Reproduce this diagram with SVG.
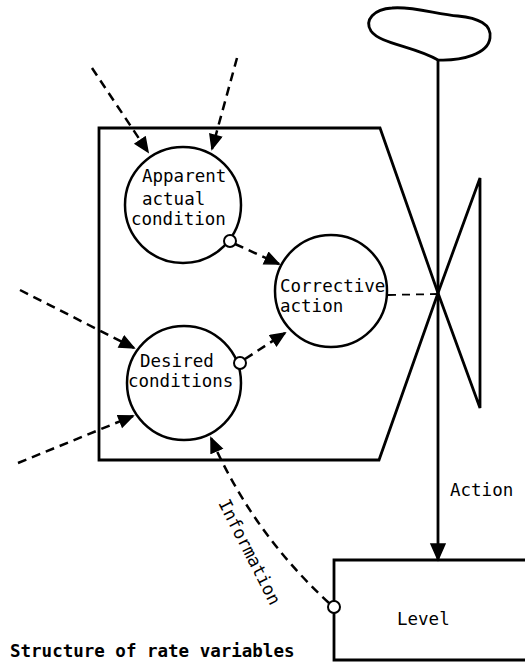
<svg xmlns="http://www.w3.org/2000/svg" width="525" height="662" viewBox="0 0 525 662">
<style>
.solid{fill:none;stroke:#000;stroke-width:2.8;stroke-linejoin:miter}
.node{fill:#fff;stroke:#000;stroke-width:2.5}
.dash{fill:none;stroke:#000;stroke-width:2.5;stroke-dasharray:9 6}
.tap{fill:#fff;stroke:#000;stroke-width:2}
.t{font-family:"DejaVu Sans Mono","Liberation Mono",monospace;font-size:17.5px;fill:#000}
.cap{font-family:"DejaVu Sans Mono","Liberation Mono",monospace;font-size:17.5px;font-weight:bold;fill:#000}
</style>
<defs>
<marker id="ah" markerUnits="userSpaceOnUse" markerWidth="18" markerHeight="16" refX="15" refY="7" orient="auto">
<path d="M1,1 L15,7 L1,13 Z" fill="#000" stroke="#000" stroke-width="1.5" stroke-dasharray="none"/>
</marker>
<marker id="ahb" markerUnits="userSpaceOnUse" markerWidth="20" markerHeight="18" refX="17" refY="8" orient="auto">
<path d="M1,1 L17,8 L1,15 Z" fill="#000" stroke="#000" stroke-width="1.5"/>
</marker>
</defs>

<g id="rate-box">
<path class="solid" d="M99,128 L380,128 L438,293 L379,460 L99,460 Z"/>
</g>

<g id="valve">
<path class="solid" d="M438,293 L480,178 L480,408 Z"/>
</g>

<g id="source-cloud">
<path class="solid" d="M438,60 C462,61 488,54 490,38 C492,24 478,18 458,16 C436,14 412,6 392,8 C374,9 364,20 371,31 C380,44 414,46 438,60 Z"/>
</g>

<g id="level">
<path class="solid" d="M528,560 L334,560 L334,660 L528,660"/>
<text class="t" x="397" y="625">Level</text>
</g>

<g id="apparent">
<circle class="node" cx="183" cy="205" r="58"/>
<text class="t" x="142" y="182">Apparent</text>
<text class="t" x="142" y="205">actual</text>
<text class="t" x="131" y="225">condition</text>
</g>

<g id="corrective">
<circle class="node" cx="331" cy="291" r="56"/>
<text class="t" x="280" y="292">Corrective</text>
<text class="t" x="280" y="312">action</text>
</g>

<g id="desired">
<circle class="node" cx="184" cy="383" r="57"/>
<text class="t" x="140" y="367">Desired</text>
<text class="t" x="128" y="387">conditions</text>
</g>

<g id="connectors">
<line class="solid" x1="438" y1="60" x2="438" y2="560" marker-end="url(#ahb)"/>
<line class="dash" x1="92" y1="68" x2="148" y2="152" marker-end="url(#ah)"/>
<line class="dash" x1="237" y1="58" x2="212" y2="149" marker-end="url(#ah)"/>
<line class="dash" x1="20" y1="290" x2="134" y2="348" marker-end="url(#ah)"/>
<line class="dash" x1="18" y1="463" x2="133" y2="416" marker-end="url(#ah)"/>
<line class="dash" x1="235" y1="244" x2="279" y2="264" marker-end="url(#ah)"/>
<line class="dash" x1="245" y1="359" x2="285" y2="333" marker-end="url(#ah)"/>
<path class="dash" d="M329,603 Q252,532 211,438" marker-end="url(#ah)"/>
<line class="dash" style="stroke-width:1.8;stroke-dasharray:8 6" x1="388" y1="295" x2="438" y2="294"/>
<circle class="tap" cx="230" cy="241" r="6"/>
<circle class="tap" cx="240" cy="363" r="6"/>
<circle class="tap" cx="334" cy="607" r="6"/>
<text class="t" x="450" y="496">Action</text>
<text class="t" transform="translate(218,503) rotate(63)">Information</text>
</g>

<text class="cap" x="10" y="657">Structure of rate variables</text>
</svg>
